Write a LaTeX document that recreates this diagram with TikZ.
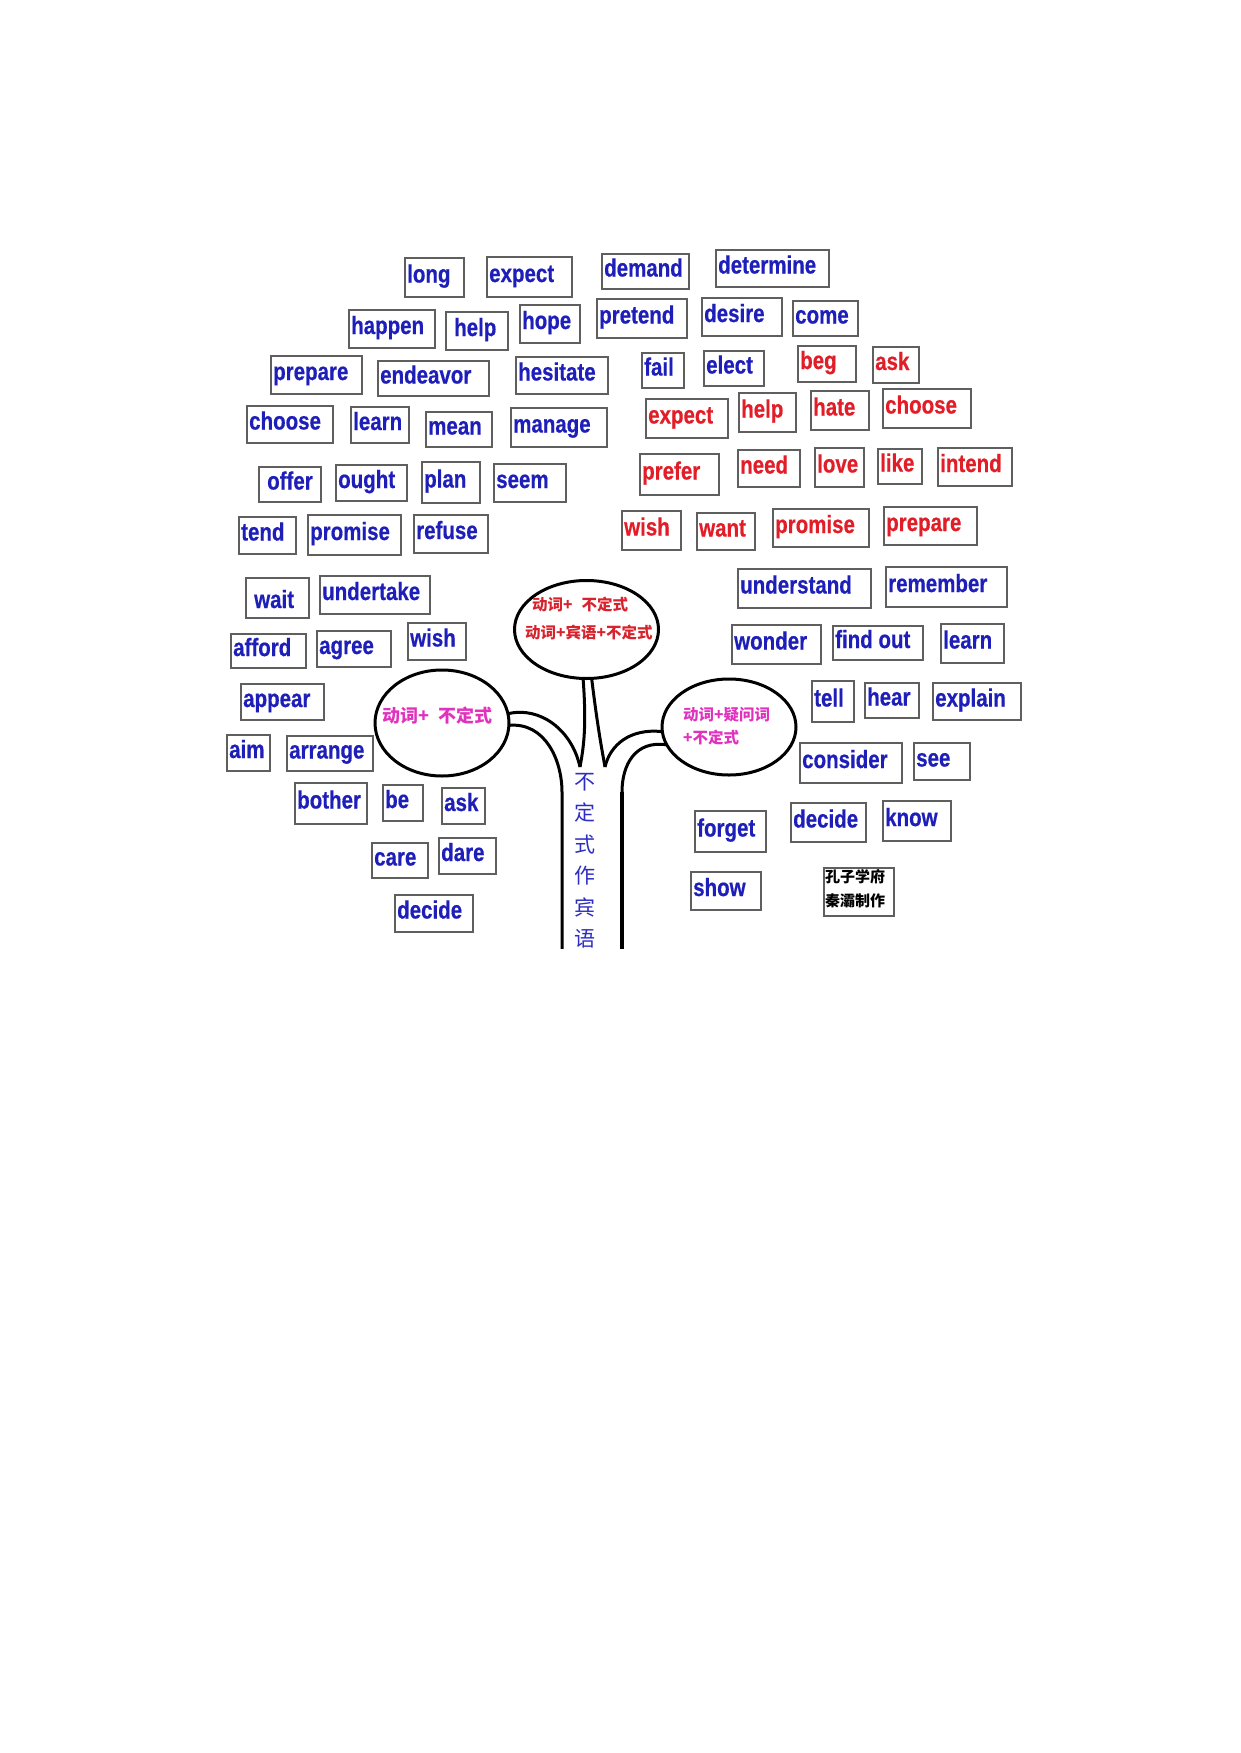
\documentclass[tikz,border=0pt]{standalone}
\usepackage{fontspec}
\setmainfont{Liberation Sans}
\newfontfamily\wordfont{Liberation Sans Bold}[FakeBold=0.6]
\newfontfamily\cjk{Noto Sans CJK SC}
\usepackage{graphicx}
\usetikzlibrary{shapes.geometric}
\definecolor{wblue}{RGB}{30,30,185}
\definecolor{wred}{RGB}{225,30,40}
\definecolor{wmag}{RGB}{225,50,190}
\definecolor{ered}{RGB}{215,35,45}
\definecolor{tblue}{RGB}{45,45,195}
\definecolor{boxgray}{RGB}{95,95,95}
\tikzset{
  wbx/.style={draw=boxgray, line width=2pt, inner sep=0pt, outer sep=0pt},
  wtxt/.style={anchor=base west, inner sep=0pt, font=\wordfont\fontsize{25}{30}\selectfont},
  bubble/.style={draw=black, line width=3pt, ellipse, inner sep=0pt, outer sep=0pt},
  branch/.style={draw=black, line width=3pt},
  ctxt/.style={anchor=base west, inner sep=0pt},
}
\newcommand\wbox[8][]{%
  \node[wbx, minimum width={(#5-#3)*1pt}, minimum height={(#6-#4)*1pt}] (#2) at ({(#3+#5)/2},{(#4+#6)/2}) {};
  \node[wtxt, text=#7, #1] (#2-t) at ({#3+2},{(#4+#6)/2+5}) {\scalebox{0.82}[1]{#8}};
}
\begin{document}
\begin{tikzpicture}[x=1pt,y=-1pt]
\useasboundingbox (0,0) rectangle (1240,1753);

% ---- left blue cluster
\wbox{long}{405}{258}{464}{297}{wblue}{long}
\wbox{expect}{487}{257}{572}{297}{wblue}{expect}
\wbox{happen}{349}{310}{435}{348}{wblue}{happen}
\wbox[xshift=6pt]{help}{446}{312}{508}{350}{wblue}{help}
\wbox{hope}{520}{305}{580}{343}{wblue}{hope}
\wbox{prepare}{271}{356}{362}{394}{wblue}{prepare}
\wbox{endeavor}{378}{361}{489}{396}{wblue}{endeavor}
\wbox{hesitate}{516}{357}{608}{394}{wblue}{hesitate}
\wbox{choose}{247}{406}{333}{443}{wblue}{choose}
\wbox{learn}{351}{407}{409}{443}{wblue}{learn}
\wbox{mean}{426}{412}{492}{447}{wblue}{mean}
\wbox{manage}{511}{408}{607}{447}{wblue}{manage}
\wbox[xshift=6pt]{offer}{259}{467}{321}{502}{wblue}{offer}
\wbox{ought}{336}{465}{407}{501}{wblue}{ought}
\wbox{plan}{422}{462}{480}{503}{wblue}{plan}
\wbox{seem}{494}{464}{566}{502}{wblue}{seem}
\wbox{tend}{239}{517}{296}{554}{wblue}{tend}
\wbox{promise}{308}{515}{401}{555}{wblue}{promise}
\wbox{refuse}{414}{515}{488}{553}{wblue}{refuse}
\wbox[xshift=6pt,yshift=-5pt]{wait}{246}{578}{309}{618}{wblue}{wait}
\wbox{undertake}{320}{576}{430}{614}{wblue}{undertake}
\wbox{afford}{231}{634}{306}{668}{wblue}{afford}
\wbox{agree}{317}{631}{391}{667}{wblue}{agree}
\wbox{wish}{408}{623}{466}{660}{wblue}{wish}
\wbox{appear}{241}{684}{324}{720}{wblue}{appear}
\wbox{aim}{227}{735}{270}{771}{wblue}{aim}
\wbox{arrange}{287}{736}{373}{771}{wblue}{arrange}
\wbox{bother}{295}{783}{367}{824}{wblue}{bother}
\wbox{be}{383}{785}{423}{821}{wblue}{be}
\wbox{ask}{442}{788}{485}{824}{wblue}{ask}
\wbox{care}{372}{843}{428}{878}{wblue}{care}
\wbox{dare}{439}{838}{496}{874}{wblue}{dare}
\wbox{decide}{395}{895}{473}{932}{wblue}{decide}

% ---- top right blue
\wbox{demand}{602}{254}{689}{289}{wblue}{demand}
\wbox{determine}{716}{250}{829}{287}{wblue}{determine}
\wbox{pretend}{597}{299}{687}{338}{wblue}{pretend}
\wbox{desire}{702}{298}{782}{336}{wblue}{desire}
\wbox{come}{793}{301}{858}{336}{wblue}{come}
\wbox{fail}{642}{353}{684}{388}{wblue}{fail}
\wbox{elect}{704}{351}{764}{386}{wblue}{elect}

% ---- red
\wbox{r-beg}{798}{346}{856}{382}{wred}{beg}
\wbox{r-ask}{873}{347}{919}{383}{wred}{ask}
\wbox{r-expect}{646}{399}{728}{438}{wred}{expect}
\wbox{r-help}{739}{393}{796}{432}{wred}{help}
\wbox{r-hate}{811}{391}{869}{430}{wred}{hate}
\wbox{r-choose}{883}{389}{971}{428}{wred}{choose}
\wbox{r-prefer}{640}{454}{719}{495}{wred}{prefer}
\wbox{r-need}{738}{450}{800}{487}{wred}{need}
\wbox{r-love}{815}{448}{864}{487}{wred}{love}
\wbox{r-like}{878}{449}{922}{484}{wred}{like}
\wbox{r-intend}{938}{448}{1012}{486}{wred}{intend}
\wbox{r-wish}{622}{511}{681}{550}{wred}{wish}
\wbox{r-want}{697}{513}{755}{550}{wred}{want}
\wbox{r-promise}{773}{509}{869}{547}{wred}{promise}
\wbox{r-prepare}{884}{507}{977}{545}{wred}{prepare}

% ---- right lower blue
\wbox{understand}{738}{569}{871}{608}{wblue}{understand}
\wbox{remember}{886}{567}{1007}{607}{wblue}{remember}
\wbox{wonder}{732}{625}{821}{664}{wblue}{wonder}
\wbox{findout}{833}{626}{923}{660}{wblue}{find out}
\wbox{b-learn}{941}{624}{1004}{663}{wblue}{learn}
\wbox{tell}{812}{681}{854}{722}{wblue}{tell}
\wbox{hear}{865}{683}{919}{718}{wblue}{hear}
\wbox{explain}{933}{683}{1021}{720}{wblue}{explain}
\wbox{consider}{800}{743}{902}{783}{wblue}{consider}
\wbox{see}{914}{743}{970}{780}{wblue}{see}
\wbox{forget}{695}{811}{766}{852}{wblue}{forget}
\wbox{b-decide}{791}{803}{866}{842}{wblue}{decide}
\wbox{know}{883}{801}{951}{841}{wblue}{know}
\wbox{show}{691}{872}{761}{910}{wblue}{show}

% ---- signature
\node[wbx, minimum width=70pt, minimum height=48pt] (sig) at (859,892) {};
\node[ctxt, font=\cjk\bfseries\fontsize{15}{24}\selectfont, text=black] (sig1) at (825,882) {孔子学府};
\node[ctxt, font=\cjk\bfseries\fontsize{15}{24}\selectfont, text=black] (sig2) at (825,906) {秦灞制作};

% ---- bubbles
\node[bubble, minimum width=144pt, minimum height=98pt] (te) at (586.5,629.5) {};
\node[bubble, minimum width=134pt, minimum height=106pt] (le) at (442,723) {};
\node[bubble, minimum width=134pt, minimum height=96pt] (re) at (729,727) {};

\node[ctxt, font=\cjk\bfseries\fontsize{15.5}{20}\selectfont, text=ered] (te1) at (532,610) {动词+\hspace{9pt}不定式};
\node[ctxt, font=\cjk\bfseries\fontsize{15.5}{20}\selectfont, text=ered] (te2) at (525,638) {动词+宾语+不定式};
\node[ctxt, font=\cjk\bfseries\fontsize{18}{22}\selectfont, text=wmag] (le1) at (382,722) {动词+\hspace{9pt}不定式};
\node[ctxt, font=\cjk\bfseries\fontsize{15.5}{20}\selectfont, text=wmag] (re1) at (683,720) {动词+疑问词};
\node[ctxt, font=\cjk\bfseries\fontsize{15.5}{20}\selectfont, text=wmag] (re2) at (683,743) {+不定式};

% ---- branches and trunk
\coordinate (vl) at (580,767);
\coordinate (vr) at (605,767);
\coordinate (tl) at (562,792);
\coordinate (tr) at (622,792);
\coordinate (bl) at (562,960);
\coordinate (br) at (622,960);
\begin{scope}
\clip (0,0) rectangle (1240,948);
\draw[branch] (te.-94) .. controls (587,730) and (583,750) .. (vl);
\draw[branch] (te.-84) .. controls (598,730) and (602,750) .. (vr);
\draw[branch] (le.8) .. controls (540,706) and (572,730) .. (vl);
\draw[branch] (le.-2) .. controls (545,722) and (562,760) .. (tl) -- (bl);
\draw[branch] (re.184) .. controls (630,728) and (610,745) .. (vr);
\draw[branch] (re.196) .. controls (635,740) and (622,765) .. (tr);
\draw[branch, line width=4pt] (tr) -- (br);
\node[anchor=north, inner sep=0pt, align=center, font=\cjk\fontsize{21}{31.5}\selectfont, text=tblue] (trunk) at (585,773) {不\\定\\式\\作\\宾\\语};
\end{scope}
\end{tikzpicture}
\end{document}
